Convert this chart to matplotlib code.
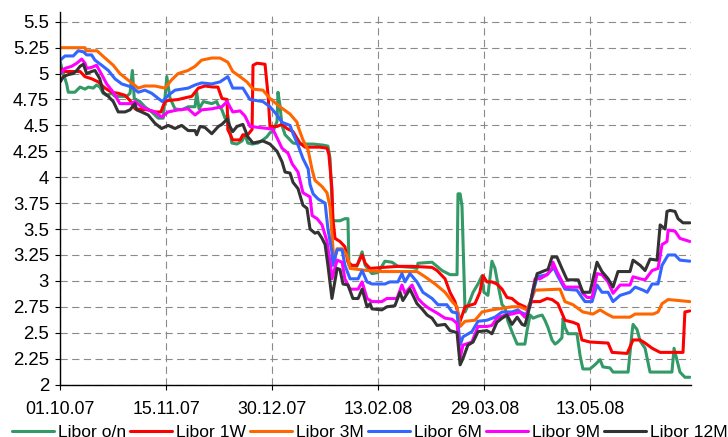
import numpy as np
import pandas as pd
import matplotlib
matplotlib.use("Agg")
import matplotlib.pyplot as plt
import matplotlib.dates as mdates

plt.rcParams['font.family'] = ['Liberation Sans', 'DejaVu Sans']

start = pd.Timestamp('2007-10-01')

# days after 01.10.07 and rate in %
on_days = [0, 1.3, 2.7, 3.4, 6.2, 8.4, 10.5, 11.9, 14, 15.4, 16.8, 18.2, 19.7, 21.8, 23.2, 28.2, 29.6, 30.6,
           31.4, 33.8, 35.9, 38.8, 41.6, 43.7, 45.2, 46.6, 48.7, 51.5, 54.3, 57.2, 57.9, 58.9, 60.7, 64.3,
           66.4, 66.9, 68.6, 69.9, 71.1, 72.8, 75, 77.1, 78.4, 79.6, 81.4, 83.9, 86, 87.7, 89, 90.3, 92,
           92.4, 93.2, 94.1, 95.4, 97.5, 98.8, 101.7, 107.3, 111.5, 113.6, 114.5, 115.3, 115.7, 118.7,
           120.8, 122.1, 122.5, 125.9, 128.1, 129.4, 132.3, 134.8, 137.8, 140.8, 143.3, 149.3, 151.4,
           151.8, 157.8, 162, 165.4, 168.4, 168.8, 169.7, 170.5, 171.8, 173, 175.2, 177.3, 179, 179.8,
           181.5, 183.2, 184.5, 185.8, 187.5, 188.8, 190, 191.7, 193.9, 197.2, 198.1, 199.4, 200.7, 202.8,
           204.5, 205.7, 207, 208.7, 210, 211.2, 212.9, 213.4, 214.2, 215.5, 219.3, 220.6, 221.8, 224.8,
           226.9, 229.1, 230.3, 233.3, 234.6, 241, 242.7, 243.1, 244.8, 246.1, 248.2, 250.3, 259.6, 260.5,
           261.7, 263, 265.1, 267.2]
on_vals = [5.11, 5.00, 4.90, 4.82, 4.82, 4.87, 4.85, 4.87, 4.86, 4.89, 4.87, 4.81, 4.79, 4.81, 4.78, 4.78,
           4.81, 5.03, 4.76, 4.73, 4.68, 4.63, 4.57, 4.57, 4.97, 4.76, 4.66, 4.65, 4.68, 4.68, 4.82, 4.66,
           4.73, 4.71, 4.73, 4.70, 4.65, 4.57, 4.60, 4.33, 4.32, 4.35, 4.41, 4.33, 4.32, 4.33, 4.36, 4.39,
           4.43, 4.44, 4.54, 4.82, 4.70, 4.50, 4.41, 4.36, 4.33, 4.32, 4.32, 4.31, 4.30, 4.18, 3.79, 3.58,
           3.58, 3.60, 3.60, 3.15, 3.14, 3.28, 3.15, 3.07, 3.08, 3.19, 3.18, 3.14, 3.13, 3.12, 3.17, 3.18,
           3.10, 3.06, 3.06, 3.84, 3.84, 3.72, 2.70, 2.76, 2.89, 2.97, 3.05, 2.89, 2.86, 3.19, 3.12, 2.96,
           2.77, 2.74, 2.61, 2.51, 2.39, 2.39, 2.52, 2.67, 2.64, 2.66, 2.67, 2.62, 2.55, 2.43, 2.39, 2.41,
           2.45, 2.64, 2.55, 2.49, 2.49, 2.28, 2.15, 2.15, 2.19, 2.24, 2.17, 2.16, 2.12, 2.12, 2.51, 2.58,
           2.53, 2.42, 2.35, 2.12, 2.12, 2.35, 2.24, 2.12, 2.07, 2.07]

w1_days = [0, 2, 8.4, 10.5, 13.3, 16.1, 19, 21.8, 24.6, 27.5, 29.6, 31.7, 37.3, 40.2, 42.7, 44.4, 45.8, 50.1,
           53.7, 55.8, 58.6, 61.4, 64.9, 66.9, 68.6, 70.8, 71.1, 73.2, 76.3, 77.5, 79.2, 81.4, 81.8, 83.5,
           86.9, 88.2, 89, 92, 94.1, 96.2, 98.8, 101.7, 103.9, 110.2, 113.2, 114, 115.3, 115.7, 116.6,
           118.7, 120.8, 122.1, 123.8, 125.9, 128.1, 129.4, 131.5, 136.9, 143.3, 149.3, 157.8, 159.9,
           163.3, 165.4, 167.5, 169.7, 171.8, 176, 178.1, 179.4, 181.1, 183.2, 185.3, 187.5, 189.6, 191.7,
           194.3, 197.2, 198.1, 200.2, 203.6, 206.6, 208.7, 211.2, 214.2, 217.6, 219.8, 221.4, 224.8,
           232.5, 234.2, 240.6, 243.1, 246.1, 248.2, 251.2, 254.6, 264.3, 265.1, 267.2]
w1_vals = [5.05, 5.02, 5.02, 4.97, 4.95, 4.92, 4.86, 4.82, 4.81, 4.79, 4.74, 4.66, 4.65, 4.63, 4.63, 4.73,
           4.74, 4.75, 4.77, 4.78, 4.86, 4.88, 4.87, 4.87, 4.76, 4.75, 4.46, 4.36, 4.36, 4.41, 4.40, 4.46,
           5.08, 5.10, 5.09, 4.79, 4.49, 4.49, 4.51, 4.47, 4.44, 4.33, 4.29, 4.29, 4.28, 4.22, 3.89, 3.60,
           3.41, 3.38, 3.33, 3.18, 3.15, 3.15, 3.25, 3.17, 3.12, 3.13, 3.14, 3.14, 3.13, 3.10, 3.02, 2.89,
           2.80, 2.61, 2.75, 2.78, 2.89, 3.05, 2.99, 2.99, 2.97, 2.92, 2.84, 2.83, 2.78, 2.75, 2.73, 2.80,
           2.80, 2.83, 2.82, 2.78, 2.62, 2.60, 2.58, 2.43, 2.41, 2.40, 2.31, 2.30, 2.43, 2.43, 2.40, 2.35,
           2.31, 2.31, 2.70, 2.71]

m3_days = [0, 10.5, 10.9, 15.6, 19, 22.5, 25.3, 30.3, 33.1, 35.9, 40.2, 44.4, 47.3, 50, 54.2, 57.2, 60,
           64.3, 67.8, 71.1, 73.2, 76.3, 79.2, 81.8, 86, 89, 93.2, 97.5, 100.5, 100.9, 103, 105.2, 106.9,
           108.1, 111.1, 113.2, 114.5, 115.3, 116.2, 117.5, 119.6, 121.7, 123, 130.2, 136.5, 151.4, 154.8,
           159.1, 163.3, 166.3, 168.4, 169.7, 171.8, 176, 179, 183.2, 191.7, 195.1, 198.1, 201.5, 212.1,
           214.2, 217.6, 221.8, 226.1, 229.1, 232, 234.6, 241.8, 244, 251.6, 253.7, 255.4, 258, 267.2]
m3_vals = [5.25, 5.25, 5.22, 5.22, 5.15, 5.08, 5.00, 4.91, 4.86, 4.88, 4.88, 4.86, 4.94, 5.00, 5.03, 5.07,
           5.13, 5.15, 5.15, 5.11, 5.02, 4.97, 4.92, 4.85, 4.84, 4.76, 4.68, 4.61, 4.53, 4.49, 4.36, 4.26,
           4.07, 3.97, 3.91, 3.85, 3.71, 3.45, 3.18, 3.31, 3.31, 3.25, 3.12, 3.10, 3.09, 3.09, 3.04, 2.97,
           2.89, 2.80, 2.75, 2.56, 2.61, 2.62, 2.70, 2.72, 2.75, 2.75, 2.72, 2.91, 2.92, 2.80, 2.77, 2.70,
           2.68, 2.72, 2.68, 2.65, 2.65, 2.68, 2.68, 2.70, 2.78, 2.82, 2.80]

m6_days = [0, 2, 5.5, 7.6, 9.8, 11.2, 13.3, 14.7, 17.6, 20.4, 23.2, 26.1, 30.3, 33.1, 35.9, 38.8, 41.6,
           43.3, 45.8, 48.7, 51.5, 54.3, 57.2, 60, 64.3, 67.8, 71.1, 73.2, 77.5, 80.5, 86, 89, 92, 94.1,
           97.5, 98.8, 100.9, 103, 105.2, 106, 107.3, 109.4, 112.4, 113.6, 115.3, 115.7, 117.5, 119.6,
           120.8, 123, 126.4, 128.1, 130.2, 132.3, 137.8, 139.9, 143.3, 145, 146.3, 148.4, 151.4, 153.9,
           157.8, 160.3, 164.1, 166.3, 168.4, 169.7, 170.9, 174.7, 177.3, 181.1, 184.5, 187.5, 191.7,
           194.3, 195.1, 198.1, 202.4, 206.6, 208.7, 209.1, 210.8, 214.2, 219.3, 221.4, 222.7, 225.7,
           227.8, 229.9, 232.5, 234.6, 237.6, 241.8, 244, 247.4, 249.1, 251.2, 253.7, 255.4, 256.7, 258,
           260.9, 263, 267.2]
m6_vals = [5.13, 5.17, 5.17, 5.22, 5.21, 5.18, 5.18, 5.13, 5.08, 5.03, 4.95, 4.90, 4.87, 4.82, 4.84, 4.81,
           4.76, 4.73, 4.79, 4.84, 4.85, 4.86, 4.89, 4.91, 4.90, 4.92, 4.97, 4.86, 4.86, 4.75, 4.73, 4.68,
           4.60, 4.53, 4.50, 4.42, 4.31, 4.18, 4.08, 3.93, 3.84, 3.79, 3.75, 3.50, 3.28, 3.15, 3.30, 3.30,
           3.15, 3.02, 3.02, 3.10, 2.99, 2.97, 2.97, 2.99, 2.99, 3.07, 2.99, 3.07, 2.99, 2.89, 2.83, 2.77,
           2.77, 2.70, 2.69, 2.38, 2.46, 2.51, 2.61, 2.62, 2.65, 2.70, 2.70, 2.72, 2.70, 2.67, 3.04, 3.06,
           3.11, 3.15, 3.06, 2.92, 2.91, 2.84, 2.80, 2.80, 2.96, 2.89, 2.89, 2.80, 2.86, 2.89, 2.94, 2.91,
           2.89, 2.97, 2.97, 3.15, 3.20, 3.25, 3.25, 3.20, 3.19]

m9_days = [0, 2, 4.8, 7, 9.1, 10.5, 11.2, 13.3, 15.4, 17.6, 19.7, 22.5, 25.3, 29.6, 31.7, 34.5, 37.3, 40.2,
           43, 45.8, 50.1, 54.3, 57.2, 60, 64.3, 68.6, 70.8, 73.2, 76.3, 78.4, 80.5, 88.2, 90.3, 92, 94.1,
           96.7, 98.4, 100.9, 103, 106, 106.9, 109, 111.1, 113.2, 114.5, 115.3, 117.5, 119.6, 120.8, 123,
           126.4, 128.1, 130.2, 132.3, 136.5, 138.6, 142.9, 145, 146.3, 149.3, 151.8, 153.9, 156.1, 159.9,
           163.3, 166.3, 168.4, 169.7, 170.9, 174.7, 177.3, 181.1, 183.2, 185.3, 188.8, 191.7, 195.1,
           197.2, 199.4, 201.5, 203.6, 206.6, 208.7, 209.1, 210.8, 214.2, 220.6, 221.8, 223.6, 225.7,
           227.8, 229.9, 232.5, 234.6, 237.6, 241.8, 243.1, 246.1, 248.2, 251.2, 253.7, 255.4, 257.5, 258,
           260.9, 263, 267.2]
m9_vals = [5.00, 5.05, 5.07, 5.10, 5.14, 5.10, 5.05, 5.06, 5.08, 4.99, 4.90, 4.82, 4.71, 4.71, 4.73, 4.68,
           4.65, 4.63, 4.58, 4.63, 4.65, 4.66, 4.60, 4.65, 4.66, 4.68, 4.73, 4.63, 4.64, 4.59, 4.49, 4.47,
           4.46, 4.38, 4.28, 4.23, 4.13, 4.05, 3.85, 3.81, 3.63, 3.60, 3.54, 3.38, 3.18, 3.02, 3.20, 3.18,
           3.02, 2.92, 2.92, 2.99, 2.83, 2.80, 2.80, 2.83, 2.83, 2.96, 2.88, 2.96, 2.83, 2.78, 2.74, 2.69,
           2.64, 2.63, 2.59, 2.25, 2.38, 2.41, 2.56, 2.56, 2.57, 2.64, 2.67, 2.68, 2.70, 2.65, 2.76, 3.02,
           3.02, 3.06, 3.12, 3.18, 3.09, 2.94, 2.94, 2.88, 2.84, 2.84, 3.07, 3.06, 2.99, 2.88, 2.96, 2.96,
           3.04, 3.02, 3.01, 3.10, 3.12, 3.35, 3.38, 3.49, 3.48, 3.41, 3.38]

m12_days = [0, 1.3, 3.4, 5.5, 7, 8.4, 9.8, 11.2, 13.3, 14.7, 16.8, 18.2, 20.4, 22.5, 24.6, 27.5, 29.6, 31.7,
            32.4, 34.5, 37.3, 40.2, 43, 45.8, 48.7, 51.5, 54.3, 57.2, 57.9, 59.3, 61.4, 64.3, 67.1, 68.6,
            70.8, 72, 73.2, 75, 77.5, 79.6, 81.8, 86, 89, 92, 94.1, 95.4, 97.5, 98.8, 100.9, 103, 104.7,
            106, 108.1, 109.4, 111.1, 112.4, 113.6, 115.3, 117.5, 118.7, 120, 122.1, 124.2, 126.4, 128.1,
            130.2, 131.5, 132.3, 136.5, 138.6, 142, 144.2, 145.4, 148.4, 151.4, 153.5, 155.7, 157.8, 159.9,
            163.3, 165.4, 168.4, 169.7, 170.9, 173, 175.2, 177.3, 181.1, 183.2, 185.3, 187.5, 189.6, 191.7,
            193.9, 196, 197.2, 198.5, 200.7, 202.4, 203.6, 205.7, 207, 208.7, 210.8, 212.9, 215.1, 219.8,
            221.8, 224.8, 227.8, 229.9, 232.5, 234.6, 236.7, 241.8, 243.1, 246.1, 248.2, 250.3, 253.3,
            254.6, 256.7, 257.5, 258.8, 260.9, 262.2, 264.3, 267.2]
m12_vals = [4.92, 4.97, 4.99, 5.00, 5.03, 5.07, 5.09, 5.00, 5.02, 5.03, 4.95, 4.82, 4.78, 4.73, 4.63, 4.63,
            4.65, 4.71, 4.65, 4.63, 4.60, 4.52, 4.47, 4.50, 4.47, 4.50, 4.45, 4.45, 4.41, 4.49, 4.48, 4.42,
            4.49, 4.51, 4.56, 4.49, 4.44, 4.49, 4.51, 4.39, 4.33, 4.35, 4.32, 4.25, 4.15, 4.05, 4.04, 3.95,
            3.89, 3.73, 3.70, 3.50, 3.46, 3.47, 3.41, 3.35, 3.15, 2.83, 3.12, 3.11, 2.97, 2.96, 2.83, 2.83,
            2.92, 2.75, 2.78, 2.73, 2.72, 2.75, 2.76, 2.89, 2.81, 2.92, 2.78, 2.73, 2.67, 2.64, 2.57, 2.58,
            2.52, 2.50, 2.19, 2.25, 2.38, 2.41, 2.51, 2.52, 2.49, 2.60, 2.64, 2.67, 2.58, 2.65, 2.58, 2.57,
            2.68, 2.92, 3.07, 3.08, 3.10, 3.11, 3.23, 3.23, 3.12, 3.01, 3.01, 2.89, 2.89, 3.18, 3.09, 3.02,
            2.94, 3.09, 3.09, 3.20, 3.15, 3.10, 3.21, 3.20, 3.54, 3.50, 3.67, 3.68, 3.67, 3.60, 3.56, 3.56]

labels = ["Libor o/n", "Libor 1W", "Libor 3M", "Libor 6M", "Libor 9M", "Libor 12M"]
colors = ["#339966", "#ff0000", "#ff6600", "#3366ff", "#ff00ff", "#333333"]
all_days = [on_days, w1_days, m3_days, m6_days, m9_days, m12_days]
all_vals = [on_vals, w1_vals, m3_vals, m6_vals, m9_vals, m12_vals]

fig = plt.figure(figsize=(7.28, 4.37), dpi=100)
ax = fig.add_axes([0.0828, 0.1201, 0.8664, 0.8524])

for lab, col, d, v in zip(labels, colors, all_days, all_vals):
    x = (start + pd.to_timedelta(d, unit='D')).to_numpy()
    ax.plot(x, v, color=col, lw=2.2, label=lab,
            solid_joinstyle='round', solid_capstyle='round')

ax.set_xlim(start, start + pd.Timedelta(days=267.7))
ax.set_ylim(2, 5.594)
ax.set_xticks([start + pd.Timedelta(days=45 * k) for k in range(6)])
ax.xaxis.set_major_formatter(mdates.DateFormatter('%d.%m.%y'))
yt = np.arange(2, 5.51, 0.25)
ax.set_yticks(yt)
ax.set_yticklabels([f"{t:g}" for t in yt])

ax.tick_params(axis='y', length=3.6, width=0.8, pad=4.5, labelsize=13.4, direction='out')
ax.tick_params(axis='x', length=3.6, width=0.8, pad=8, labelsize=12.8, direction='out')

ax.set_axisbelow(True)
ax.grid(True, color='#8a8a8a', lw=0.8, linestyle=(0, (6.5, 4)))
for s in ['top', 'right']:
    ax.spines[s].set_visible(False)
for s in ['left', 'bottom']:
    ax.spines[s].set_linewidth(1)
    ax.spines[s].set_color('black')

fig.legend(loc='center left', bbox_to_anchor=(0.0165, 0.0114), ncol=6, frameon=False,
           fontsize=12.6, handlelength=2.4, handletextpad=0.23, columnspacing=0.23,
           borderpad=0, borderaxespad=0)

fig.savefig("out.png", dpi=100)
